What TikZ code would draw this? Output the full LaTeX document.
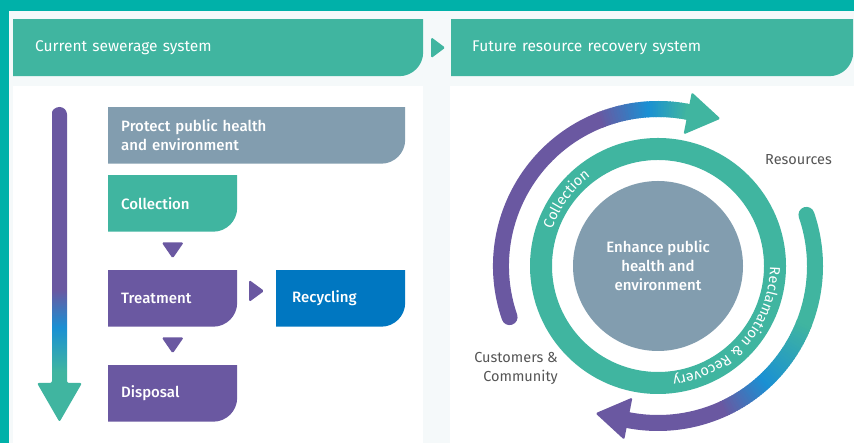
\documentclass[tikz,border=0pt]{standalone}
\usepackage{fontspec}
\setmainfont{Fira Sans}[BoldFont={Fira Sans Medium}]
\usetikzlibrary{calc}
\usetikzlibrary{decorations.text}

\definecolor{frameteal}{HTML}{00B1A9}
\definecolor{paneltint}{HTML}{F5F9FA}
\definecolor{tealc}{HTML}{40B5A0}
\definecolor{slate}{HTML}{829DAF}
\definecolor{purp}{HTML}{6A58A1}
\definecolor{recycblue}{HTML}{0077C1}
\definecolor{flowblue}{HTML}{1A90D3}
\definecolor{labelgrey}{HTML}{555555}

\pgfdeclareverticalshading{sinkflow}{100bp}{color(0bp)=(tealc); color(33bp)=(tealc); color(40bp)=(flowblue); color(46bp)=(purp); color(100bp)=(purp)}

\tikzset{
  tab/.style={fill=white, path picture={
      \fill[#1] (path picture bounding box.north west) -- (path picture bounding box.north east)
        -- ([yshift=24pt]path picture bounding box.south east) arc[start angle=0, end angle=-90, radius=24pt]
        -- (path picture bounding box.south west) -- cycle;}},
  stage/.style={tab=#1, anchor=north west, minimum height=56.5pt, text width=103pt, inner xsep=13pt,
      inner ysep=0pt, align=left, text=white, font=\bfseries\fontsize{15}{19}\selectfont},
  banner/.style={stage=tealc, fill=paneltint, minimum height=57pt, inner xsep=22pt,
      font=\fontsize{15.5}{17}\selectfont},
  flow/.style={line width=16pt},
  pointer/.style={fill=#1, rounded corners=1.5pt},
  ringtext/.style={decorate, decoration={text along path, text align=center,
      text={|\fontsize{14.5}{16}\selectfont\color{white}|#1}}},
  side/.style={text=labelgrey, font=\fontsize{14.5}{19}\selectfont, inner sep=0pt}
}

\begin{document}
\begin{tikzpicture}[x=1pt, y=1pt]
  \useasboundingbox (0,0) rectangle (854,443);
  % frame and panels
  \fill[frameteal] (0,0) rectangle (854,443);
  \fill[paneltint] (9,0) rectangle (854,432);
  \fill[white] (13,0) rectangle (423,357);
  \fill[white] (450,0) rectangle (854,357);

  % headers
  \node[banner, text width=366pt] (current) at (13,424) {Current sewerage system};
  \node[banner, text width=360pt, inner xsep=21pt] (future) at (451,424) {Future resource recovery system};
  \fill[pointer=tealc] let \p1 = ($(current.east)!0.5!(future.west)$) in
    (\x1-6,\y1+10.5) -- (\x1+8,\y1) -- (\x1-6,\y1-10.5) -- cycle;

  % left: linear system
  \shade[shading=sinkflow, rounded corners=2pt] (52,60) -- (52,328.5)
    [sharp corners] arc[start angle=180, end angle=0, radius=7.5pt] [rounded corners=2pt]
    -- (67,60) -- (82,60) -- (59.5,21) -- (37,60) -- cycle;

  \node[stage=slate, text width=271pt] (protect) at (108,336) {Protect public health\\and environment};
  \node[stage=tealc] (collect) at (108,268) {Collection};
  \node[stage=purp] (treat) at (108,173) {Treatment};
  \node[stage=recycblue, text width=97pt, inner xsep=16pt] (recycle) at (276,173) {Recycling};
  \node[stage=purp] (dispose) at (108,78) {Disposal};

  \fill[pointer=purp] let \p1 = ($(collect.south)!0.5!(treat.north)$) in
    (\x1-11,\y1+8.5) -- (\x1+11,\y1+8.5) -- (\x1,\y1-7.5) -- cycle;
  \fill[pointer=purp] let \p1 = ($(treat.south)!0.5!(dispose.north)$) in
    (\x1-11,\y1+8.5) -- (\x1+11,\y1+8.5) -- (\x1,\y1-7.5) -- cycle;
  \fill[pointer=purp] let \p1 = ($(treat.east)!0.5!(recycle.west)$) in
    (\x1-7.5,\y1+18.5) -- (\x1+7.5,\y1+7.5) -- (\x1-7.5,\y1-3.5) -- cycle;

  % right: resource recovery cycle
  \node[circle, fill=slate, minimum size=170pt, inner sep=0pt, align=center, text=white,
    font=\bfseries\fontsize{15}{19}\selectfont] (hub) at (658,177) {Enhance public\\health and\\environment};
  \draw[tealc, line width=22pt] (hub.center) circle[radius=117pt];
  \path[ringtext=Collection] ([shift={(167:112)}]hub.center) arc[start angle=167, end angle=121, radius=112pt];
  \path[ringtext=Reclamation {\&} Recovery] ([shift={(7:112)}]hub.center) arc[start angle=7, end angle=-90, radius=112pt];

  % upper arc: purple -> blue -> teal
  \draw[flow, purp, line cap=round] ([shift={(199:157)}]hub.center) arc[start angle=199, end angle=111, radius=157pt];
  \foreach \a [evaluate=\a as \p using {int((\a-94)*100/18)}] in {112,111,...,95}
    \draw[flow, purp!\p!flowblue] ([shift={(\a:157)}]hub.center) arc[start angle=\a, end angle=\a-1.5, radius=157pt];
  \foreach \a [evaluate=\a as \p using {int((\a-80)*100/14)}] in {94,93,...,80}
    \draw[flow, flowblue!\p!tealc] ([shift={(\a:157)}]hub.center) arc[start angle=\a, end angle=\a-1.5, radius=157pt];
  \fill[pointer=tealc] ([shift={(79:134)}]hub.center) -- ([shift={(67:160)}]hub.center) -- ([shift={(79:177)}]hub.center) -- cycle;

  % lower arc: teal -> blue -> purple
  \draw[flow, tealc, line cap=round] ([shift={(19:157)}]hub.center) arc[start angle=19, end angle=-22, radius=157pt];
  \foreach \a [evaluate=\a as \p using {int((-21-\a)*100/26)}] in {-21,-22,...,-46}
    \draw[flow, flowblue!\p!tealc] ([shift={(\a:157)}]hub.center) arc[start angle=\a, end angle=\a-1.5, radius=157pt];
  \foreach \a [evaluate=\a as \p using {int((-47-\a)*100/18)}] in {-47,-48,...,-64}
    \draw[flow, purp!\p!flowblue] ([shift={(\a:157)}]hub.center) arc[start angle=\a, end angle=\a-1.5, radius=157pt];
  \draw[flow, purp] ([shift={(-65:157)}]hub.center) arc[start angle=-65, end angle=-102, radius=157pt];
  \fill[pointer=purp] ([shift={(259:134)}]hub.center) -- ([shift={(247:160)}]hub.center) -- ([shift={(259:177)}]hub.center) -- cycle;

  \node[side, anchor=west] (resources) at (765,283) {Resources};
  \node[side, anchor=east, align=right] (customers) at (558,74.5) {Customers \&\\Community};
\end{tikzpicture}
\end{document}
